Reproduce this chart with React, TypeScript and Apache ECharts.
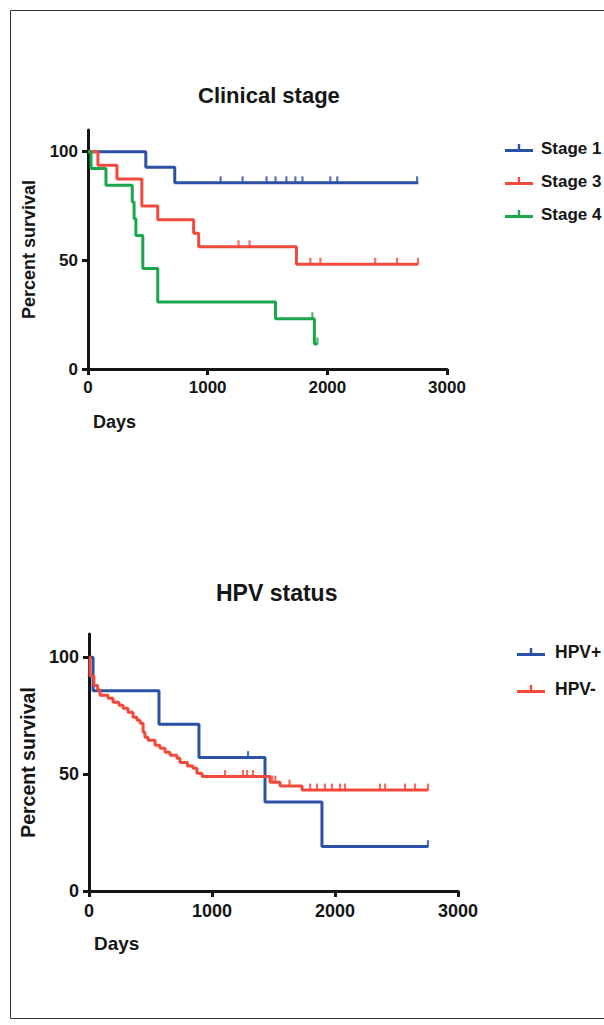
import React, { useEffect, useRef } from "react";
import * as echarts from "echarts";

// ---------- data ----------
const xTickValues = [0, 1000, 2000, 3000];
const yTickValues = [0, 50, 100];

const stageNames = ["Stage 1", "Stage 3", "Stage 4"];
const stage1Curve = [[0, 100], [483, 92.9], [725, 85.7], [2760, 85.7]];
const stage1Censored = [1108, 1292, 1492, 1567, 1658, 1733, 1792, 2025, 2083, 2750];
const stage3Curve = [[0, 100], [83, 93.75], [242, 87.5], [450, 75], [583, 68.75], [883, 62.5], [925, 56.25], [1742, 48.2], [2758, 48.2]];
const stage3Censored = [1258, 1350, 1858, 1942, 2400, 2583, 2758];
const stage4Curve = [[0, 100], [25, 92.3], [150, 84.6], [370, 76.9], [385, 69.2], [400, 61.5], [458, 46.2], [583, 30.8], [1567, 23.1], [1892, 11.5], [1917, 11.5]];
const stage4Censored = [1875, 1917];

const hpvNames = ["HPV+", "HPV-"];
const hpvPosCurve = [[0, 100], [33, 85.7], [569, 71.4], [894, 57.1], [1431, 38.1], [1894, 19.0], [2756, 19.0]];
const hpvPosCensored = [1293, 2756];
const hpvNegCurve = [[0, 100], [8, 92], [40, 88], [70, 86], [89, 83.8], [155, 82.5], [195, 80.8], [244, 79.5], [277, 78.2], [317, 76.5], [358, 74.4], [390, 73.1], [415, 71.8], [440, 68], [455, 65.8], [480, 64.5], [537, 62.4], [577, 61.1], [618, 59.4], [659, 58.1], [715, 56.8], [740, 55], [800, 53.5], [845, 52.5], [878, 50.4], [919, 49], [1472, 46.6], [1553, 44.9], [1732, 43.2], [2756, 43.2]];
const hpvNegCensored = [1106, 1252, 1285, 1333, 1490, 1515, 1630, 1797, 1854, 1919, 1976, 2041, 2081, 2366, 2407, 2569, 2650, 2756];

const BLUE = "#2c50a6";
const RED = "#f04a3c";
const GREEN = "#1aa64a";
const FONT = "'Liberation Sans', Arial, Helvetica, sans-serif";
const INK = "#151515";

function valueAt(curve: number[][], t: number) {
  let v = curve[0][1];
  for (const [x, y] of curve) if (x <= t) v = y;
  return v;
}

const legendIcon = "path://M0,5L28,5L28,8L0,8Z M12.8,0L15.2,0L15.2,5L12.8,5Z";

function kmSeries(name: string, curve: number[][], censored: number[], color: string, idx: number) {
  return [
    {
      type: "line",
      name,
      xAxisIndex: idx,
      yAxisIndex: idx,
      step: "end",
      symbol: "none",
      data: curve,
      color,
      lineStyle: { color, width: 3 },
      itemStyle: { color },
      z: 3,
    },
    {
      type: "scatter",
      name: name + " censored",
      xAxisIndex: idx,
      yAxisIndex: idx,
      symbol: "rect",
      symbolSize: [2.2, 7],
      symbolOffset: [0, -3],
      data: censored.map((t) => [t, valueAt(curve, t)]),
      itemStyle: { color },
      silent: true,
      z: 4,
    },
  ];
}

function xAxis(idx: number, fs: number, margin: number) {
  return {
    type: "value",
    gridIndex: idx,
    min: 0,
    max: 3000,
    interval: 1000,
    axisLine: { show: true, onZero: false, lineStyle: { color: INK, width: 3 } },
    axisTick: { show: true, length: 6, lineStyle: { color: INK, width: 3 }, customValues: xTickValues },
    axisLabel: {
      fontSize: fs,
      fontWeight: "bold",
      color: INK,
      fontFamily: FONT,
      margin,
      customValues: xTickValues,
      formatter: (v: number) => String(v),
    },
    splitLine: { show: false },
  };
}

function yAxis(idx: number, fs: number, nfs: number, gap: number) {
  return {
    type: "value",
    gridIndex: idx,
    min: 0,
    max: 110,
    axisLine: { show: true, onZero: false, lineStyle: { color: INK, width: 3 } },
    axisTick: { show: true, length: 6, lineStyle: { color: INK, width: 3 }, customValues: yTickValues },
    axisLabel: { fontSize: fs, fontWeight: "bold", color: INK, fontFamily: FONT, margin: 10, customValues: yTickValues },
    splitLine: { show: false },
    name: "Percent survival",
    nameLocation: "middle",
    nameGap: gap,
    nameTextStyle: { fontSize: nfs, fontWeight: "bold", color: INK, fontFamily: FONT },
  };
}

export default function App() {
  const ref = useRef<HTMLDivElement>(null);
  useEffect(() => {
    if (!ref.current) return;
    const chart = echarts.init(ref.current, null, { renderer: "svg" });
    const option = {
      animation: false,
      backgroundColor: "#ffffff",
      title: [
        { text: "Clinical stage", left: 193, top: 79, textStyle: { fontSize: 22, fontWeight: "bold", color: INK, fontFamily: FONT } },
        { text: "HPV status", left: 211, top: 576, textStyle: { fontSize: 23, fontWeight: "bold", color: INK, fontFamily: FONT } },
      ],
      legend: [
        {
          data: stageNames,
          orient: "vertical",
          left: 500,
          top: 133,
          itemWidth: 28,
          itemHeight: 8,
          itemGap: 13,
          icon: legendIcon,
          textStyle: { fontSize: 17, fontWeight: "bold", color: INK, fontFamily: FONT, lineHeight: 20, padding: [0, 0, 0, 3] },
        },
        {
          data: hpvNames,
          orient: "vertical",
          left: 512,
          top: 637,
          itemWidth: 30,
          itemHeight: 8,
          itemGap: 17,
          icon: legendIcon,
          textStyle: { fontSize: 17.5, fontWeight: "bold", color: INK, fontFamily: FONT, lineHeight: 20, padding: [0, 0, 0, 4] },
        },
      ],
      grid: [
        { left: 88, top: 130, width: 359, height: 239 },
        { left: 89, top: 634, width: 369, height: 257 },
      ],
      xAxis: [xAxis(0, 17, 10), xAxis(1, 18, 11)],
      yAxis: [yAxis(0, 17, 18, 50), yAxis(1, 18, 19.5, 51)],
      graphic: [
        { type: "rect", shape: { x: 10.5, y: 10.5, width: 700, height: 1008 }, style: { fill: "none", stroke: "#333", lineWidth: 1 }, silent: true },
        { type: "text", left: 93, top: 413, style: { text: "Days", fontSize: 18, fontWeight: "bold", fill: INK, fontFamily: FONT } },
        { type: "text", left: 94, top: 934, style: { text: "Days", fontSize: 19, fontWeight: "bold", fill: INK, fontFamily: FONT } },
      ],
      series: [
        ...kmSeries(stageNames[0], stage1Curve, stage1Censored, BLUE, 0),
        ...kmSeries(stageNames[1], stage3Curve, stage3Censored, RED, 0),
        ...kmSeries(stageNames[2], stage4Curve, stage4Censored, GREEN, 0),
        ...kmSeries(hpvNames[0], hpvPosCurve, hpvPosCensored, BLUE, 1),
        ...kmSeries(hpvNames[1], hpvNegCurve, hpvNegCensored, RED, 1),
      ],
    };
    chart.setOption(option as any);
    return () => chart.dispose();
  }, []);
  return <div ref={ref} style={{ position: "fixed", left: 0, top: 0, width: 604, height: 1025 }} />;
}
